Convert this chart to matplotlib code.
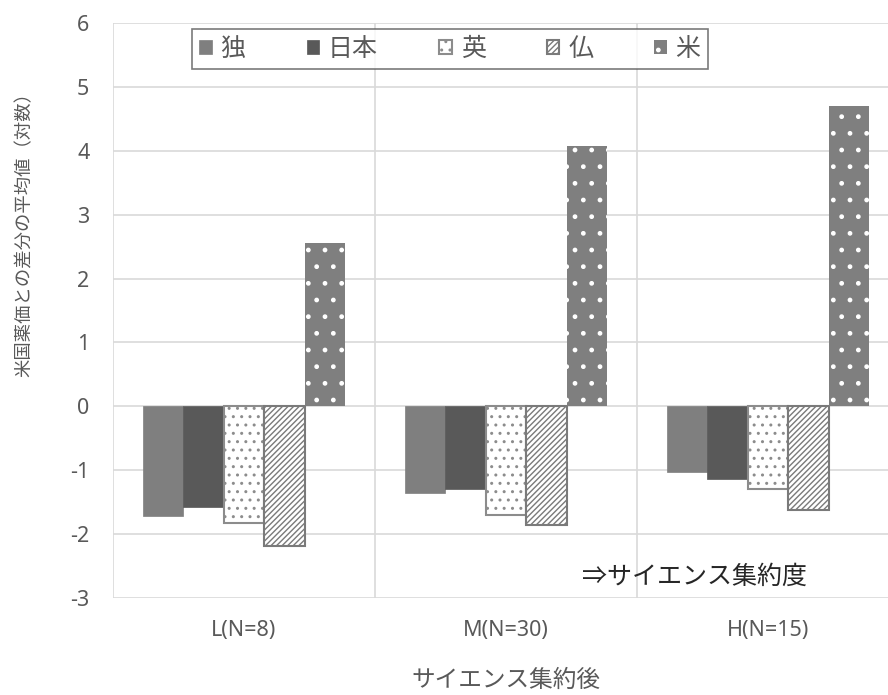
import matplotlib
matplotlib.use("Agg")
import matplotlib.pyplot as plt
import numpy as np

plt.rcParams['font.family'] = ['Noto Sans', 'Noto Sans CJK JP', 'DejaVu Sans']
plt.rcParams['hatch.linewidth'] = 1.0

categories = ["L(N=8)", "M(N=30)", "H(N=15)"]
series_names = ["独", "日本", "英", "仏", "米"]
v_de = [-1.71, -1.35, -1.02]
v_jp = [-1.57, -1.30, -1.14]
v_uk = [-1.83, -1.70, -1.29]
v_fr = [-2.19, -1.86, -1.63]
v_us = [2.55, 4.08, 4.70]
series_values = [v_de, v_jp, v_uk, v_fr, v_us]
yticks = [-3, -2, -1, 0, 1, 2, 3, 4, 5, 6]
xlabel = "サイエンス集約後"
ylabel = "米国薬価との差分の平均値（対数）"
note = "⇒サイエンス集約度"

fig = plt.figure(figsize=(8.88, 6.95), dpi=100)
ax = fig.add_axes([113/888, 1-598/695, (899-113)/888, (598-23)/695])

styles = [
    dict(facecolor="#7f7f7f", edgecolor="#7f7f7f", hatch=None, linewidth=0.5),
    dict(facecolor="#595959", edgecolor="#595959", hatch=None, linewidth=0.5),
    dict(facecolor="white", edgecolor="#8c8c8c", hatch="..", linewidth=1.5),
    dict(facecolor="white", edgecolor="#7a7a7a", hatch="//////", linewidth=1.5),
    dict(facecolor="#7f7f7f", edgecolor="white", hatch=".", linewidth=0),
]

x = np.arange(len(categories))
w = 0.154
handles = []
for i, (name, vals, st) in enumerate(zip(series_names, series_values, styles)):
    bars = ax.bar(x + (i - 2) * w, vals, width=w, label=name, zorder=3, **st)
    handles.append(bars)

ax.set_xlim(-0.5, 2.5)
ax.set_ylim(-3, 6)
ax.set_yticks(yticks)
ax.set_yticklabels([str(t) for t in yticks])
ax.set_xticks(x)
ax.set_xticklabels(categories)
ax.tick_params(axis='y', length=0, pad=17, labelsize=15.5, labelcolor="#595959")
ax.tick_params(axis='x', length=0, pad=16, labelsize=15.5, labelcolor="#595959")
for s in ax.spines.values():
    s.set_visible(False)
for t in yticks:
    ax.axhline(t, color="#d9d9d9", lw=1.2, zorder=1)
for xv in [-0.5, 0.5, 1.5]:
    ax.axvline(xv, color="#d9d9d9", lw=1.2, zorder=1)

fig.text(25/888, 1-230/695, ylabel, fontsize=13.2, color="#595959",
         ha="center", va="center", rotation=90)
fig.text(506/888, 1-681/695, xlabel, fontsize=17, color="#595959", ha="center", va="center")
ax.text(1.72, -2.67, note, fontsize=18, color="#262626", ha="center", va="center", zorder=4)

leg = ax.legend(handles=handles, labels=series_names, ncol=5, loc="center",
                bbox_to_anchor=((450-113)/786, 1-(49-23)/575), frameon=True, fancybox=False,
                edgecolor="#595959", fontsize=18, handlelength=0.5, handleheight=0.5,
                handletextpad=0.35, columnspacing=2.45, borderpad=0.3, labelcolor="#595959")
leg.get_frame().set_linewidth(1.2)

fig.savefig("out.png", dpi=100)
